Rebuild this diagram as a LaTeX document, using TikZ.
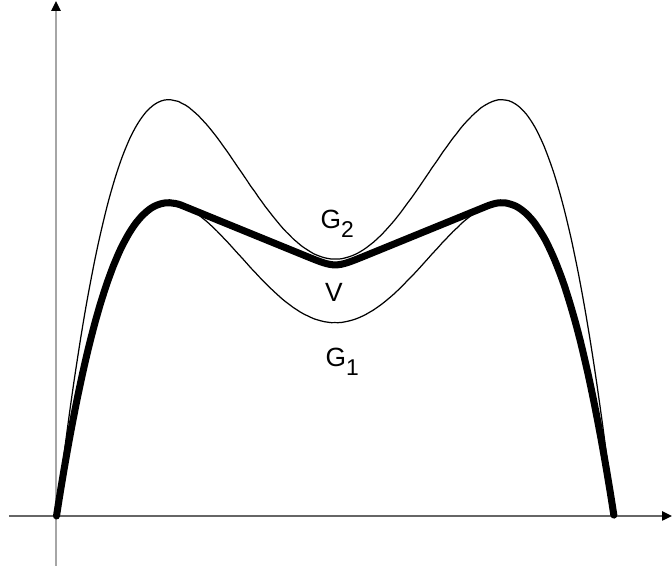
\documentclass[tikz,border=0pt]{standalone}
\usepackage{fontspec}
\setmainfont{Liberation Sans}
\usetikzlibrary{arrows.meta,calc}
\colorlet{axisY}{black!35}
\colorlet{axisX}{black!60}
\tikzset{
  thincurve/.style={line width=0.35pt},
  envelope/.style={line width=2pt,line cap=round,line join=round},
  lbl/.style={font=\fontsize{7.5}{9}\selectfont,inner sep=0pt},
}
\newcommand{\subidx}[1]{\raisebox{-2.4pt}{\fontsize{6.5}{7}\selectfont #1}}

\begin{document}
\begin{tikzpicture}[x=1cm,y=1cm,>={Triangle[length=2.8pt,width=2.6pt,color=black]},
  declare function={gg(\s)=11.46*\s-26.5*\s^2-37.87*\s^3; ff(\t)=gg(\t*(1-\t));}]
\useasboundingbox (0,0) rectangle (6.72,5.72);
% axes
\coordinate (ybot) at (0.56,0.06); \coordinate (ytop) at (0.56,5.71);
\coordinate (xleft) at (0.09,0.56); \coordinate (xright) at (6.72,0.56);
\draw[axisY,line width=0.45pt,->] (ybot) -- (ytop);
\draw[axisX,line width=0.45pt,->] (xleft) -- (xright);
% G_1 and G_2
\draw[thincurve] plot[domain=0:1,samples=161,smooth] ({0.565+5.575*\x},{0.56+3.13*ff(\x)});
\draw[thincurve] plot[domain=0:1,samples=161,smooth] ({0.565+5.575*\x},{0.56+1.329*3.13*ff(\x)});
% V
\coordinate (tl) at (1.829,3.660); \coordinate (tr) at (4.876,3.660);
\coordinate (vmin) at (3.3525,3.04);
\draw[envelope] plot[domain=0:0.2268,samples=50,smooth] ({0.565+5.575*\x},{0.56+3.13*ff(\x)})
  -- ($(vmin)!0.2!(tl)$) .. controls (vmin) .. ($(vmin)!0.2!(tr)$)
  -- plot[domain=0.7732:1,samples=50,smooth] ({0.565+5.575*\x},{0.56+3.13*ff(\x)});
% labels
\node[lbl,anchor=base west] (g2) at (3.20,3.43) {G\subidx{2}};
\node[lbl] (v) at (3.34,2.80) {V};
\node[lbl,anchor=base west] (g1) at (3.25,2.05) {G\subidx{1}};
\end{tikzpicture}
\end{document}
